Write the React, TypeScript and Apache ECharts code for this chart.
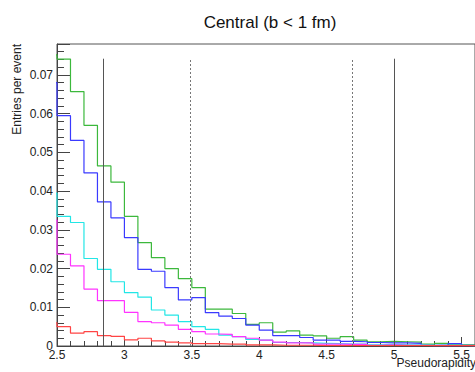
import React, { useEffect, useRef } from "react";
import * as echarts from "echarts";

// Lower edges of the 0.1-wide pseudorapidity bins (first bin lies left of the visible range)
const binLowEdges = [
  2.4, 2.5, 2.6, 2.7, 2.8, 2.9, 3.0, 3.1, 3.2, 3.3, 3.4, 3.5, 3.6, 3.7, 3.8, 3.9,
  4.0, 4.1, 4.2, 4.3, 4.4, 4.5, 4.6, 4.7, 4.8, 4.9, 5.0, 5.1, 5.2, 5.3, 5.4, 5.5,
];
const lastBinUpperEdge = 5.6;

const greenValues = [
  0.0752, 0.0741, 0.0657, 0.057, 0.0465, 0.0423, 0.0335, 0.0267, 0.0228, 0.02, 0.0174, 0.0151,
  0.0095, 0.0095, 0.0084, 0.0056, 0.006, 0.0036, 0.0039, 0.0028, 0.0026, 0.002, 0.0024, 0.0015,
  0.0011, 0.0012, 0.0011, 0.001, 0.0005, 0.0007, 0.0005, 0.0003,
];
const blueValues = [
  0.068, 0.0595, 0.0531, 0.0447, 0.0372, 0.0331, 0.028, 0.0198, 0.0193, 0.0151, 0.0119, 0.0125,
  0.0086, 0.0077, 0.0071, 0.0054, 0.0041, 0.0027, 0.0027, 0.0022, 0.0015, 0.0015, 0.0012, 0.0011,
  0.0009, 0.0008, 0.0008, 0.0007, 0.0002, 0.0003, 0.0006, 0.0002,
];
const cyanValues = [
  0.0395, 0.0335, 0.0319, 0.0226, 0.0198, 0.0166, 0.0138, 0.0126, 0.0093, 0.008, 0.0063, 0.005,
  0.0043, 0.0028, 0.0024, 0.0017, 0.0015, 0.0009, 0.0009, 0.0008, 0.0007, 0.0006, 0.0005, 0.0005,
  0.0003, 0.0004, 0.0003, 0.0003, 0.0002, 0.0002, 0.0002, 0.0001,
];
const magentaValues = [
  0.0325, 0.0237, 0.0207, 0.0147, 0.0117, 0.0117, 0.0087, 0.0063, 0.006, 0.0054, 0.0043, 0.0037,
  0.0031, 0.003, 0.0024, 0.002, 0.0015, 0.001, 0.0008, 0.0008, 0.0005, 0.0005, 0.0004, 0.0004,
  0.0002, 0.0003, 0.0002, 0.0002, 0.0001, 0.0001, 0.0001, 0.0001,
];
const redValues = [
  0.006, 0.005, 0.0033, 0.0037, 0.0027, 0.0025, 0.0016, 0.002, 0.0013, 0.001, 0.0008, 0.0006,
  0.0006, 0.0005, 0.0005, 0.0003, 0.0003, 0.0002, 0.0002, 0.0002, 0.0001, 0.0001, 0.0001, 0.0001,
  0.0001, 0.0001, 0.0001, 0.0001, 0.0001, 0.0001, 0.0001, 0.0001,
];

// Acceptance boundaries drawn as vertical lines
const solidCuts = [2.84, 5.0];
const dottedCuts = [3.49, 4.69];
const cutLineTop = 0.0742;

const titleText = "Central (b < 1 fm)";
const xTitle = "Pseudorapidity";
const yTitle = "Entries per event";

const FONT = "Liberation Sans, Arial, Helvetica, sans-serif";

function histData(values: number[]) {
  const pts: [number, number][] = binLowEdges.map((x, i) => [x, values[i]]);
  pts.push([lastBinUpperEdge, values[values.length - 1]]);
  return pts;
}

export default function App() {
  const ref = useRef<HTMLDivElement>(null);
  useEffect(() => {
    const chart = echarts.init(ref.current!, null, { renderer: "svg" });
    const histSeries = (name: string, values: number[], color: string, extra: any = {}) => ({
      name,
      type: "line",
      step: "end",
      symbol: "none",
      clip: true,
      data: histData(values),
      lineStyle: { color, width: 1.2 },
      itemStyle: { color },
      emphasis: { disabled: true },
      silent: true,
      ...extra,
    });
    const cutLines = [
      ...solidCuts.map((x) => [
        { coord: [x, 0], lineStyle: { color: "#555", width: 1, type: "solid" } },
        { coord: [x, cutLineTop] },
      ]),
      ...dottedCuts.map((x) => [
        { coord: [x, 0], lineStyle: { color: "#777", width: 1, type: [2, 2] } },
        { coord: [x, cutLineTop] },
      ]),
    ];
    chart.setOption({
      animation: false,
      backgroundColor: "#fff",
      textStyle: { fontFamily: FONT },
      title: {
        text: titleText,
        left: 265,
        top: 9,
        textAlign: "center",
        textStyle: { fontFamily: FONT, fontSize: 17, fontWeight: "normal", color: "#111" },
      },
      grid: {
        left: 57,
        top: 44,
        width: 421,
        height: 302,
        show: true,
        borderColor: "#555",
        borderWidth: 1,
        backgroundColor: "transparent",
      },
      xAxis: {
        type: "value",
        min: 2.5,
        max: 5.6,
        interval: 0.5,
        axisLine: { show: true, onZero: false, lineStyle: { color: "#444", width: 1 } },
        axisTick: { show: true, inside: true, length: 9, lineStyle: { color: "#444" } },
        minorTick: { show: true, splitNumber: 5, length: 5, lineStyle: { color: "#444" } },
        splitLine: { show: false },
        axisLabel: {
          color: "#222",
          fontSize: 12,
          fontFamily: FONT,
          margin: 3,
          showMaxLabel: false,
          formatter: (v: number) => String(Number(v.toFixed(1))),
        },
      },
      yAxis: {
        type: "value",
        min: 0,
        max: 0.078,
        interval: 0.01,
        axisLine: { show: true, lineStyle: { color: "#444", width: 1 } },
        axisTick: { show: true, inside: true, length: 13, lineStyle: { color: "#444" } },
        minorTick: { show: true, splitNumber: 5, length: 7, lineStyle: { color: "#444" } },
        splitLine: { show: false },
        axisLabel: {
          color: "#222",
          fontSize: 12,
          fontFamily: FONT,
          margin: 4,
          showMaxLabel: false,
          formatter: (v: number) => (v === 0 ? "0" : v.toFixed(2)),
        },
      },
      graphic: [
        {
          type: "text",
          x: 17,
          y: 44,
          rotation: Math.PI / 2,
          style: {
            text: yTitle,
            align: "right",
            verticalAlign: "middle",
            font: `12px ${FONT}`,
            fill: "#222",
          },
        },
        {
          type: "text",
          x: 476,
          y: 363,
          style: {
            text: xTitle,
            align: "right",
            verticalAlign: "middle",
            font: `12px ${FONT}`,
            fill: "#222",
          },
        },
      ],
      series: [
        histSeries("green", greenValues, "#3cb83c", {
          markLine: {
            silent: true,
            symbol: "none",
            label: { show: false },
            data: cutLines,
          },
        }),
        histSeries("blue", blueValues, "#3a3aff"),
        histSeries("cyan", cyanValues, "#22e6e6"),
        histSeries("magenta", magentaValues, "#ff33ff"),
        histSeries("red", redValues, "#ff4444"),
      ],
    });
    return () => chart.dispose();
  }, []);
  return (
    <div
      ref={ref}
      style={{ position: "absolute", left: 0, top: 0, width: 475, height: 372, overflow: "hidden" }}
    />
  );
}
